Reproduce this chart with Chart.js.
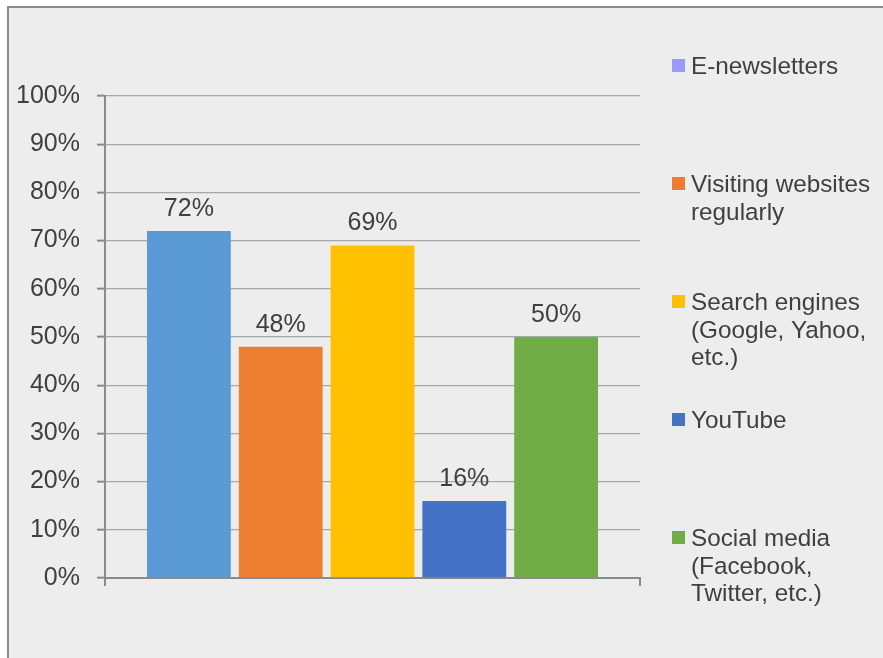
<!DOCTYPE html>
<html>
<head>
<meta charset="utf-8">
<script src="https://cdn.jsdelivr.net/npm/chart.js@4/dist/chart.umd.min.js"></script>
<style>
    html, body { margin: 0; padding: 0; background: #ffffff; overflow: hidden; }
    #marco {
        position: absolute; left: 7px; top: 6px;
        width: 900px; height: 700px;
        background: #ededed;
        border-top: 2px solid #8a8a8a;
        border-left: 2px solid #8a8a8a;
    }
    #grafico { position: absolute; left: 0; top: 0; }
</style>
</head>
<body>
<div id="marco">
    <canvas id="grafico" width="874" height="650"></canvas>
</div>
<script>
// Datos del gráfico
const series = [
    ['E-newsletters'],
    ['Visiting websites', 'regularly'],
    ['Search engines', '(Google, Yahoo,', 'etc.)'],
    ['YouTube'],
    ['Social media', '(Facebook,', 'Twitter, etc.)']
];
const valores = [72, 48, 69, 16, 50];
const coloresBarras = ['#5b9bd5', '#ed7d31', '#ffc000', '#4472c4', '#70ad47'];
const coloresLeyenda = ['#9999ff', '#ed7d31', '#ffc000', '#4472c4', '#70ad47'];
const ticksY = [0, 10, 20, 30, 40, 50, 60, 70, 80, 90, 100];

const colorTexto = '#404040';
const fuente = '"Liberation Sans", Arial, sans-serif';

// Etiquetas encima de cada barra
const etiquetasValores = {
    id: 'etiquetasValores',
    afterDatasetsDraw(chart) {
        const ctx = chart.ctx;
        ctx.save();
        ctx.font = '25px ' + fuente;
        ctx.fillStyle = colorTexto;
        ctx.textAlign = 'center';
        ctx.textBaseline = 'alphabetic';
        chart.data.datasets.forEach((ds, i) => {
            const barra = chart.getDatasetMeta(i).data[0];
            ctx.fillText(ds.data[0] + '%', barra.x, barra.y - 15);
        });
        ctx.restore();
    }
};

// Leyenda a la derecha (texto en varias líneas)
const leyenda = {
    id: 'leyenda',
    afterDraw(chart) {
        const ctx = chart.ctx;
        const x = chart.chartArea.right + 32;
        ctx.save();
        ctx.font = '24.3px ' + fuente;
        ctx.textAlign = 'left';
        ctx.textBaseline = 'alphabetic';
        series.forEach((lineas, i) => {
            const base = 66 + i * 118;
            ctx.fillStyle = coloresLeyenda[i];
            ctx.fillRect(x, base - 15, 13, 13);
            ctx.fillStyle = colorTexto;
            lineas.forEach((t, j) => {
                ctx.fillText(t, x + 19, base + j * 27.5);
            });
        });
        ctx.restore();
    }
};

const ctx = document.getElementById('grafico').getContext('2d');
new Chart(ctx, {
    type: 'bar',
    data: {
        labels: [''],
        datasets: series.map((s, i) => ({
            label: s.join(' '),
            data: [valores[i]],
            backgroundColor: coloresBarras[i],
            categoryPercentage: 0.858,
            barPercentage: 0.913
        }))
    },
    options: {
        responsive: false,
        animation: false,
        layout: {
            padding: { left: 0, top: 88, right: 243, bottom: 70 }
        },
        scales: {
            y: {
                min: 0,
                max: 100,
                afterFit: (scale) => { scale.width = 96; },
                afterBuildTicks: (scale) => {
                    scale.ticks = ticksY.map(v => ({ value: v }));
                },
                ticks: {
                    color: colorTexto,
                    font: { family: fuente, size: 25 },
                    padding: 17,
                    callback: (v) => v + '%'
                },
                grid: {
                    color: '#a8a8a8',
                    lineWidth: 1.3,
                    tickLength: 8,
                    tickColor: '#8a8a8a',
                    tickWidth: 2
                },
                border: { display: true, color: '#8a8a8a', width: 2 }
            },
            x: {
                afterFit: (scale) => { scale.height = 10; },
                ticks: { display: false },
                grid: {
                    drawOnChartArea: false,
                    drawTicks: true,
                    tickLength: 8,
                    color: '#8a8a8a',
                    lineWidth: 2
                },
                border: { display: true, color: '#8a8a8a', width: 2 }
            }
        },
        plugins: {
            legend: { display: false },
            tooltip: { enabled: false }
        }
    },
    plugins: [etiquetasValores, leyenda]
});
</script>
</body>
</html>
